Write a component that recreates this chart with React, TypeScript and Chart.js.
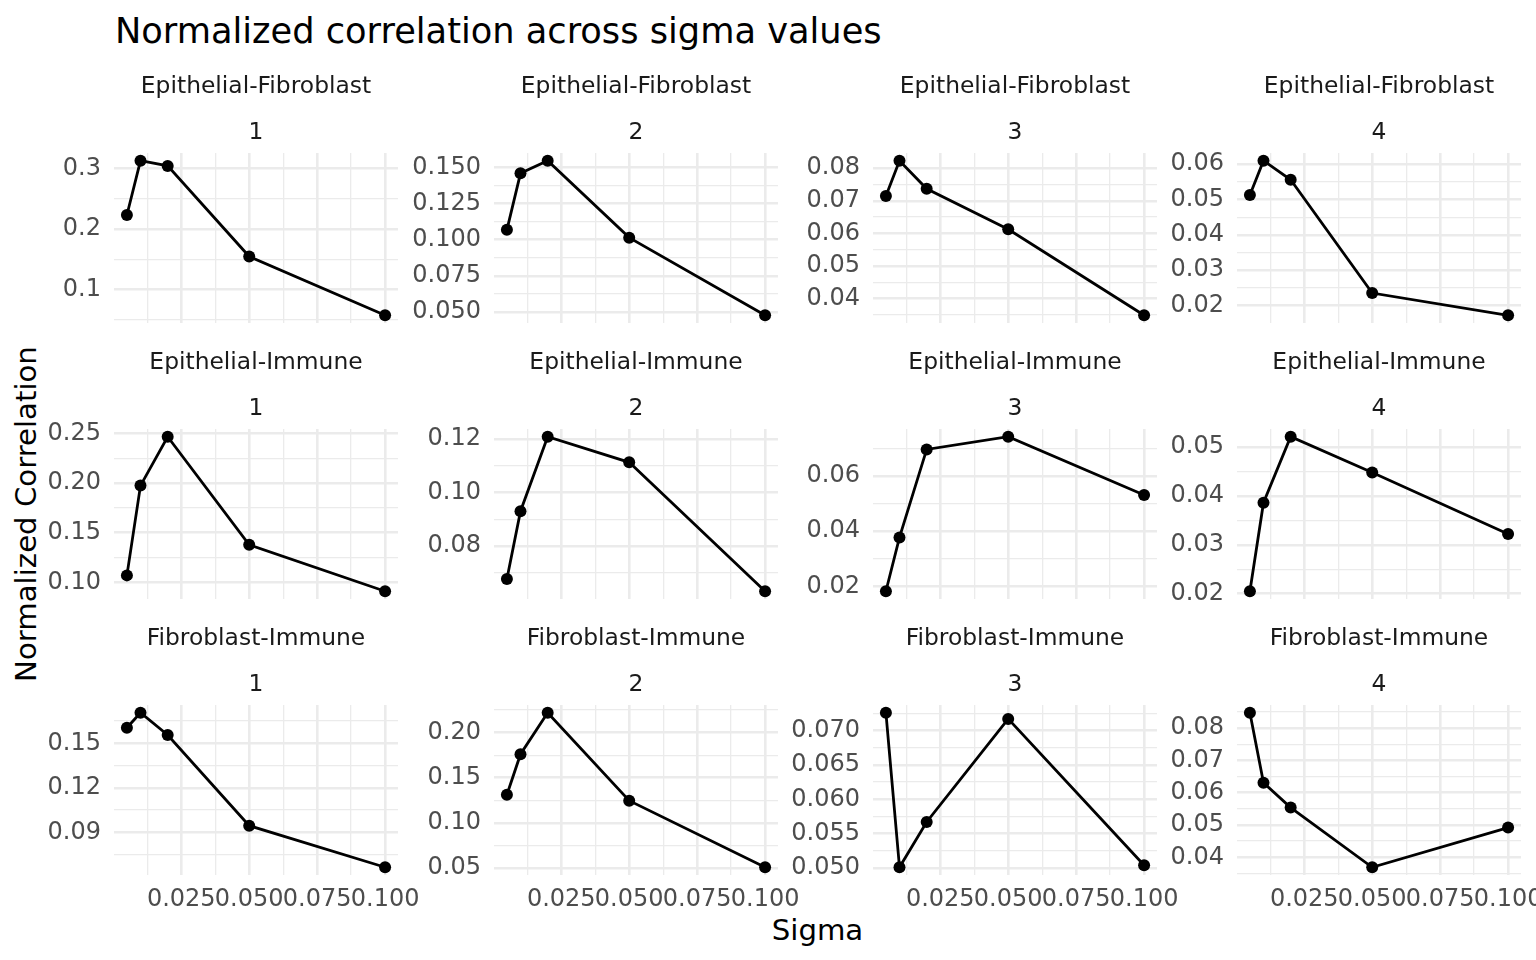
import React, { useEffect, useRef } from 'react';
import { Chart, registerables } from 'chart.js';

Chart.register(...registerables);

// ---------------- data ----------------
const sigma = [0.005, 0.01, 0.02, 0.05, 0.1];
const pairLabels = ['Epithelial-Fibroblast', 'Epithelial-Immune', 'Fibroblast-Immune'];
const groupLabels = ['1', '2', '3', '4'];

const epiFib1 = [0.223, 0.3125, 0.304, 0.1547, 0.0578];
const epiFib2 = [0.1068, 0.1459, 0.1546, 0.1014, 0.0477];
const epiFib3 = [0.0715, 0.0823, 0.0737, 0.0613, 0.0349];
const epiFib4 = [0.0513, 0.061, 0.0556, 0.0235, 0.0172];

const epiImm1 = [0.107, 0.1974, 0.2466, 0.1378, 0.091];
const epiImm2 = [0.0676, 0.093, 0.1209, 0.1113, 0.063];
const epiImm3 = [0.0182, 0.0377, 0.0696, 0.0742, 0.0531];
const epiImm4 = [0.0205, 0.0386, 0.0521, 0.0448, 0.0322];

const fibImm1 = [0.1605, 0.1706, 0.1556, 0.0945, 0.0665];
const fibImm2 = [0.1311, 0.1761, 0.2221, 0.1245, 0.0507];
const fibImm3 = [0.0726, 0.0501, 0.0567, 0.0717, 0.0504];
const fibImm4 = [0.0848, 0.0631, 0.0554, 0.0369, 0.0492];

const yTicksEpiFib1 = ['0.1', '0.2', '0.3'];
const yTicksEpiFib2 = ['0.050', '0.075', '0.100', '0.125', '0.150'];
const yTicksEpiFib3 = ['0.04', '0.05', '0.06', '0.07', '0.08'];
const yTicksEpiFib4 = ['0.02', '0.03', '0.04', '0.05', '0.06'];
const yTicksEpiImm1 = ['0.10', '0.15', '0.20', '0.25'];
const yTicksEpiImm2 = ['0.08', '0.10', '0.12'];
const yTicksEpiImm3 = ['0.02', '0.04', '0.06'];
const yTicksEpiImm4 = ['0.02', '0.03', '0.04', '0.05'];
const yTicksFibImm1 = ['0.09', '0.12', '0.15'];
const yTicksFibImm2 = ['0.05', '0.10', '0.15', '0.20'];
const yTicksFibImm3 = ['0.050', '0.055', '0.060', '0.065', '0.070'];
const yTicksFibImm4 = ['0.04', '0.05', '0.06', '0.07', '0.08'];

const xTickLabels = ['0.025', '0.050', '0.075', '0.100'];

const panelValues = [
  [epiFib1, epiFib2, epiFib3, epiFib4],
  [epiImm1, epiImm2, epiImm3, epiImm4],
  [fibImm1, fibImm2, fibImm3, fibImm4],
];
const panelTicks = [
  [yTicksEpiFib1, yTicksEpiFib2, yTicksEpiFib3, yTicksEpiFib4],
  [yTicksEpiImm1, yTicksEpiImm2, yTicksEpiImm3, yTicksEpiImm4],
  [yTicksFibImm1, yTicksFibImm2, yTicksFibImm3, yTicksFibImm4],
];

// ---------------- layout ----------------
const FONT = "'DejaVu Sans', sans-serif";
const COL_LEFT = [114, 494, 873, 1237];
const ROW_TOP = [153, 429, 705];
const PANEL_W = 284;
const PANEL_H = 170;
const AXIS_W = 100;
const STRIP_FONT = 23.4;
const STRIP_LINE = 46;
const STRIP_PAD_TOP = 16;
const STRIP_PAD_BOTTOM = -3;
const TITLE_H = STRIP_PAD_TOP + STRIP_PAD_BOTTOM + STRIP_LINE * 2;
const XAXIS_H = 45;
const RIGHT_PAD = 45;
const GRID_COLOR = '#EBEBEB';
const MAJOR_W = 2.6;
const MINOR_W = 1.3;
const TICK_FONT = 24;

Chart.defaults.font.family = FONT;

type GridLine = { value: number; major: boolean; label: string };

function buildGrid(labels: string[], lo: number, hi: number): GridLine[] {
  const majors = labels.map(Number);
  const step = majors[1] - majors[0];
  const out: GridLine[] = [];
  const n = majors.length;
  for (let k = -2; k <= 2 * (n - 1) + 2; k++) {
    const v = majors[0] + (k * step) / 2;
    if (v < lo - 1e-12 || v > hi + 1e-12) continue;
    const major = k % 2 === 0;
    const idx = k / 2;
    out.push({ value: v, major, label: major && idx >= 0 && idx < n ? labels[idx] : '' });
  }
  return out;
}

function Panel({ row, col }: { row: number; col: number }) {
  const ref = useRef<HTMLCanvasElement>(null);
  const width = AXIS_W + PANEL_W + RIGHT_PAD;
  const height = TITLE_H + PANEL_H + XAXIS_H;

  useEffect(() => {
    if (!ref.current) return;
    const values = panelValues[row][col];
    const yLabels = panelTicks[row][col];
    const yLo = Math.min(...values);
    const yHi = Math.max(...values);
    const yMin = yLo - 0.05 * (yHi - yLo);
    const yMax = yHi + 0.05 * (yHi - yLo);
    const xLo = Math.min(...sigma);
    const xHi = Math.max(...sigma);
    const xMin = xLo - 0.05 * (xHi - xLo);
    const xMax = xHi + 0.05 * (xHi - xLo);
    const yGrid = buildGrid(yLabels, yMin, yMax);
    const xGrid = buildGrid(xTickLabels, xMin, xMax);
    const tickFont = { family: FONT, size: TICK_FONT };

    const chart = new Chart(ref.current, {
      type: 'line',
      data: {
        datasets: [
          {
            data: sigma.map((s, i) => ({ x: s, y: values[i] })),
            borderColor: '#000000',
            backgroundColor: '#000000',
            borderWidth: 2.8,
            pointRadius: 6,
            pointHoverRadius: 6,
            pointBorderWidth: 0,
            pointBackgroundColor: '#000000',
            tension: 0,
            clip: false as any,
          },
        ],
      },
      options: {
        animation: false,
        responsive: false,
        events: [],
        layout: { padding: { left: 0, right: RIGHT_PAD, top: 0, bottom: 0 } },
        plugins: {
          legend: { display: false },
          tooltip: { enabled: false },
          title: {
            display: true,
            fullSize: false,
            text: [pairLabels[row], groupLabels[col]],
            color: '#1A1A1A',
            font: { family: FONT, size: STRIP_FONT, weight: 'normal', lineHeight: STRIP_LINE / STRIP_FONT },
            padding: { top: STRIP_PAD_TOP, bottom: STRIP_PAD_BOTTOM },
          },
        },
        scales: {
          x: {
            type: 'linear',
            min: xMin,
            max: xMax,
            afterBuildTicks: (s: any) => {
              s.ticks = xGrid.map((g) => ({ value: g.value }));
            },
            afterFit: (s: any) => {
              s.height = XAXIS_H;
            },
            border: { display: false },
            grid: {
              color: GRID_COLOR,
              drawTicks: false,
              lineWidth: (ctx: any) => (xGrid[ctx.index] && xGrid[ctx.index].major ? MAJOR_W : MINOR_W),
            },
            ticks: {
              display: row === 2,
              autoSkip: false,
              maxRotation: 0,
              minRotation: 0,
              padding: 10,
              color: '#4D4D4D',
              font: tickFont,
              callback: (_v: any, i: number) => (xGrid[i] ? xGrid[i].label : ''),
            },
          },
          y: {
            type: 'linear',
            min: yMin,
            max: yMax,
            afterBuildTicks: (s: any) => {
              s.ticks = yGrid.map((g) => ({ value: g.value }));
            },
            afterFit: (s: any) => {
              s.width = AXIS_W;
            },
            border: { display: false },
            grid: {
              color: GRID_COLOR,
              drawTicks: false,
              lineWidth: (ctx: any) => (yGrid[ctx.index] && yGrid[ctx.index].major ? MAJOR_W : MINOR_W),
            },
            ticks: {
              autoSkip: false,
              padding: 13,
              color: '#4D4D4D',
              font: tickFont,
              callback: (_v: any, i: number) => (yGrid[i] ? yGrid[i].label : ''),
            },
          },
        },
      } as any,
    });
    return () => chart.destroy();
  }, [row, col]);

  return (
    <canvas
      ref={ref}
      width={width}
      height={height}
      style={{
        position: 'absolute',
        left: COL_LEFT[col] - AXIS_W,
        top: ROW_TOP[row] - TITLE_H,
        width,
        height,
      }}
    />
  );
}

export default function App() {
  const panels: React.ReactNode[] = [];
  for (let r = 0; r < 3; r++) {
    for (let c = 0; c < 4; c++) {
      panels.push(<Panel key={`${r}-${c}`} row={r} col={c} />);
    }
  }
  return (
    <div
      style={{
        position: 'fixed',
        left: 0,
        top: 0,
        width: 1536,
        height: 960,
        background: '#ffffff',
        overflow: 'hidden',
        fontFamily: FONT,
      }}
    >
      <div
        style={{
          position: 'absolute',
          left: 115,
          top: 13,
          fontSize: 35.2,
          lineHeight: 1,
          color: '#000',
          whiteSpace: 'nowrap',
        }}
      >
        Normalized correlation across sigma values
      </div>
      <div
        style={{
          position: 'absolute',
          left: 817.5,
          top: 916,
          transform: 'translateX(-50%)',
          fontSize: 29.2,
          lineHeight: 1,
          color: '#000',
          whiteSpace: 'nowrap',
        }}
      >
        Sigma
      </div>
      <div
        style={{
          position: 'absolute',
          left: 27,
          top: 514,
          transform: 'translate(-50%, -50%) rotate(-90deg)',
          fontSize: 29.2,
          lineHeight: 1,
          color: '#000',
          whiteSpace: 'nowrap',
        }}
      >
        Normalized Correlation
      </div>
      {panels}
    </div>
  );
}
